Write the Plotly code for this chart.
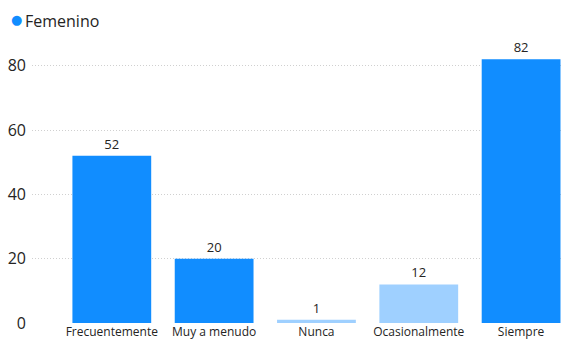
import plotly.graph_objects as go

categories = ["Frecuentemente", "Muy a menudo", "Nunca", "Ocasionalmente", "Siempre"]
values = [52, 20, 1, 12, 82]
bar_colors = ["#118DFF", "#118DFF", "#9FD0FF", "#9FD0FF", "#118DFF"]
series_name = "Femenino"
y_ticks = [0, 20, 40, 60, 80]

font_family = "Segoe UI, Open Sans, Noto Sans, sans-serif"
W, H = 561, 341

fig = go.Figure()
fig.add_trace(go.Bar(
    x=categories, y=values, name=series_name,
    marker=dict(color=bar_colors, line=dict(width=0)),
    text=[str(v) for v in values], textposition="outside",
    textfont=dict(size=13, color="#252423", family=font_family),
    cliponaxis=False, showlegend=False,
))

# legend drawn as text: blue dot + series name
fig.add_annotation(text="●", xref="paper", yref="paper",
                   x=(16 - 32) / (W - 32), y=1 + (40 - 20) / (H - 58),
                   xanchor="center", yanchor="middle", showarrow=False,
                   font=dict(size=13, color="#118DFF", family="DejaVu Sans"))
fig.add_annotation(text=series_name, xref="paper", yref="paper",
                   x=(23 - 32) / (W - 32), y=1 + (40 - 21) / (H - 58),
                   xanchor="left", yanchor="middle", showarrow=False,
                   font=dict(size=16, color="#252423", family=font_family))

fig.update_layout(
    width=W, height=H,
    margin=dict(l=32, r=0, t=40, b=18, autoexpand=False),
    paper_bgcolor="white", plot_bgcolor="white",
    bargap=0.23, showlegend=False,
    font=dict(family=font_family, color="#252423"),
    xaxis=dict(range=[-0.78, 4.39], showgrid=False, showline=False, zeroline=False,
               ticks="", tickfont=dict(size=12, color="#252423"), fixedrange=True,
               automargin=False),
    yaxis=dict(range=[0, 88], tickvals=y_ticks, showgrid=True, gridcolor="#D0D0D0",
               griddash="1px,2px", gridwidth=1, zeroline=False, showline=False,
               tickfont=dict(size=16, color="#252423"), ticks="", ticklabelstandoff=5,
               automargin=False),
)

fig.write_html("out.html", config={"displayModeBar": False},
               post_script="document.body.style.margin='0';document.body.style.padding='0';")
